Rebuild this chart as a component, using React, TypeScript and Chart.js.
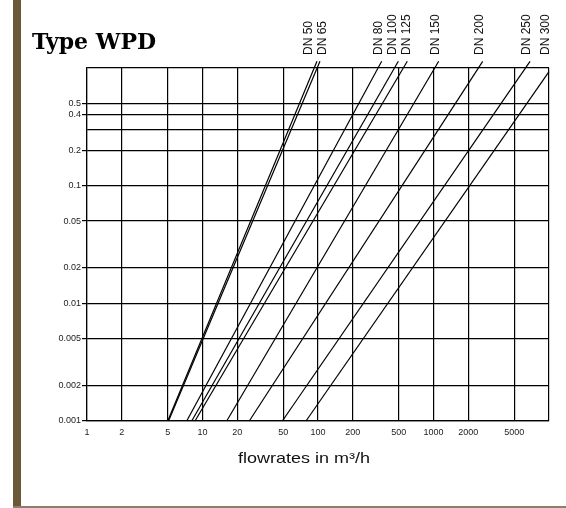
import React, { useEffect, useRef } from 'react';
import { Chart, registerables } from 'chart.js';

Chart.register(...registerables);

// Pipe sizes (one straight line each on the log-log chart)
const sizes = ['DN 50', 'DN 65', 'DN 80', 'DN 100', 'DN 125', 'DN 150', 'DN 200', 'DN 250', 'DN 300'];
// flowrate (m³/h) where each line starts, at the lowest pressure loss
const flowAtMinLoss = [5, 5.08, 7.3, 8.06, 8.61, 16.2, 25.4, 49.1, 78.7];
const minLoss = 0.001;
// flowrate (m³/h) and pressure loss where each line ends at the top
const flowAtTop = [98, 104, 356, 496, 593, 1109, 2667, 6853, 10000];
const lossAtTop = [1.14, 1.14, 1.14, 1.14, 1.14, 1.14, 1.14, 1.14, 0.93];

const xTickValues = [1, 2, 5, 10, 20, 50, 100, 200, 500, 1000, 2000, 5000, 10000];
const xTickLabels = ['1', '2', '5', '10', '20', '50', '100', '200', '500', '1000', '2000', '5000', ''];
const yTickValues = [0.001, 0.002, 0.005, 0.01, 0.02, 0.05, 0.1, 0.2, 0.3, 0.4, 0.5, 1];
const yTickLabels = ['0.001', '0.002', '0.005', '0.01', '0.02', '0.05', '0.1', '0.2', '', '0.4', '0.5', ''];

const chartTitle = 'Type WPD';
const xAxisTitle = 'flowrates in m³/h';

const annotations = {
  id: 'annotations',
  afterDatasetsDraw(chart: any) {
    const { ctx, chartArea, scales } = chart;
    const xs = scales.x;
    const pos = flowAtTop.map((v) => xs.getPixelForValue(v) - 3);
    const gap = 13.5;
    for (let k = 0; k < 6; k++) {
      for (let i = 1; i < pos.length; i++) {
        if (pos[i] - pos[i - 1] < gap) {
          const m = (pos[i] + pos[i - 1]) / 2;
          pos[i - 1] = m - gap / 2;
          pos[i] = m + gap / 2;
        }
      }
    }
    ctx.save();
    ctx.fillStyle = '#111';
    ctx.font = "12px 'Liberation Sans', Arial, sans-serif";
    ctx.textAlign = 'left';
    ctx.textBaseline = 'middle';
    sizes.forEach((s, i) => {
      ctx.save();
      ctx.translate(pos[i], chartArea.top - 13);
      ctx.rotate(-Math.PI / 2);
      ctx.fillText(s, 0, 0);
      ctx.restore();
    });

    ctx.textBaseline = 'alphabetic';
    ctx.fillStyle = '#000';
    ctx.font = "bold 22px 'DejaVu Serif', serif";
    ctx.fillText(chartTitle, 32, 48.5);

    ctx.save();
    ctx.translate(chartArea.left + 151, chartArea.bottom + 42);
    ctx.scale(1.2, 1);
    ctx.font = "15px 'Liberation Sans', Arial, sans-serif";
    ctx.fillStyle = '#111';
    ctx.fillText(xAxisTitle, 0, 0);
    ctx.restore();
    ctx.restore();
  },
};

export default function App() {
  const ref = useRef<HTMLCanvasElement | null>(null);

  useEffect(() => {
    if (!ref.current) return;
    const datasets = sizes.map((s, i) => ({
      label: s,
      data: [
        { x: flowAtMinLoss[i], y: minLoss },
        { x: flowAtTop[i], y: lossAtTop[i] },
      ],
      borderColor: '#000',
      borderWidth: 1.2,
      pointRadius: 0,
      tension: 0,
      fill: false,
      clip: false as any,
    }));
    const tickFont = { family: "'Liberation Sans', Arial, sans-serif", size: 9 };
    const chart = new Chart(ref.current, {
      type: 'line',
      data: { datasets },
      plugins: [annotations],
      options: {
        responsive: false,
        animation: false,
        events: [],
        layout: { padding: { left: 0, top: 68, right: 17, bottom: 0 } },
        plugins: {
          legend: { display: false },
          tooltip: { enabled: false },
          title: { display: false },
        },
        scales: {
          x: {
            type: 'logarithmic',
            min: 1,
            max: 10000,
            afterBuildTicks: (scale: any) => {
              scale.ticks = xTickValues.map((v) => ({ value: v }));
            },
            afterFit: (scale: any) => {
              scale.height = 87;
            },
            ticks: {
              autoSkip: false,
              maxRotation: 0,
              padding: 6,
              color: '#222',
              font: tickFont,
              callback: (_v: any, i: number) => xTickLabels[i],
            },
            grid: { color: '#000', lineWidth: 1.2, drawTicks: false },
            border: { display: true, color: '#000', width: 1.2 },
          },
          y: {
            type: 'logarithmic',
            min: 0.001,
            max: 1,
            afterBuildTicks: (scale: any) => {
              scale.ticks = yTickValues.map((v) => ({ value: v }));
            },
            afterFit: (scale: any) => {
              scale.width = 87;
            },
            ticks: {
              autoSkip: false,
              padding: 1,
              color: '#222',
              font: tickFont,
              callback: (_v: any, i: number) => yTickLabels[i],
            },
            grid: {
              color: '#000',
              lineWidth: 1.2,
              drawTicks: true,
              tickLength: 5,
              tickColor: (c: any) => (yTickLabels[c.index] ? '#000' : 'rgba(0,0,0,0)'),
            },
            border: { display: true, color: '#000', width: 1.2 },
          },
        },
      } as any,
    });
    return () => chart.destroy();
  }, []);

  return (
    <div
      style={{
        position: 'fixed',
        left: 0,
        top: 0,
        width: 566,
        height: 508,
        background: '#fff',
        overflow: 'hidden',
      }}
    >
      <div style={{ position: 'absolute', left: 13, top: 0, width: 8, height: 507, background: '#6b5838' }} />
      <div style={{ position: 'absolute', left: 13, top: 506, width: 553, height: 2, background: '#8a806c' }} />
      <canvas ref={ref} width={566} height={508} style={{ position: 'absolute', left: 0, top: 0, display: 'block' }} />
    </div>
  );
}
